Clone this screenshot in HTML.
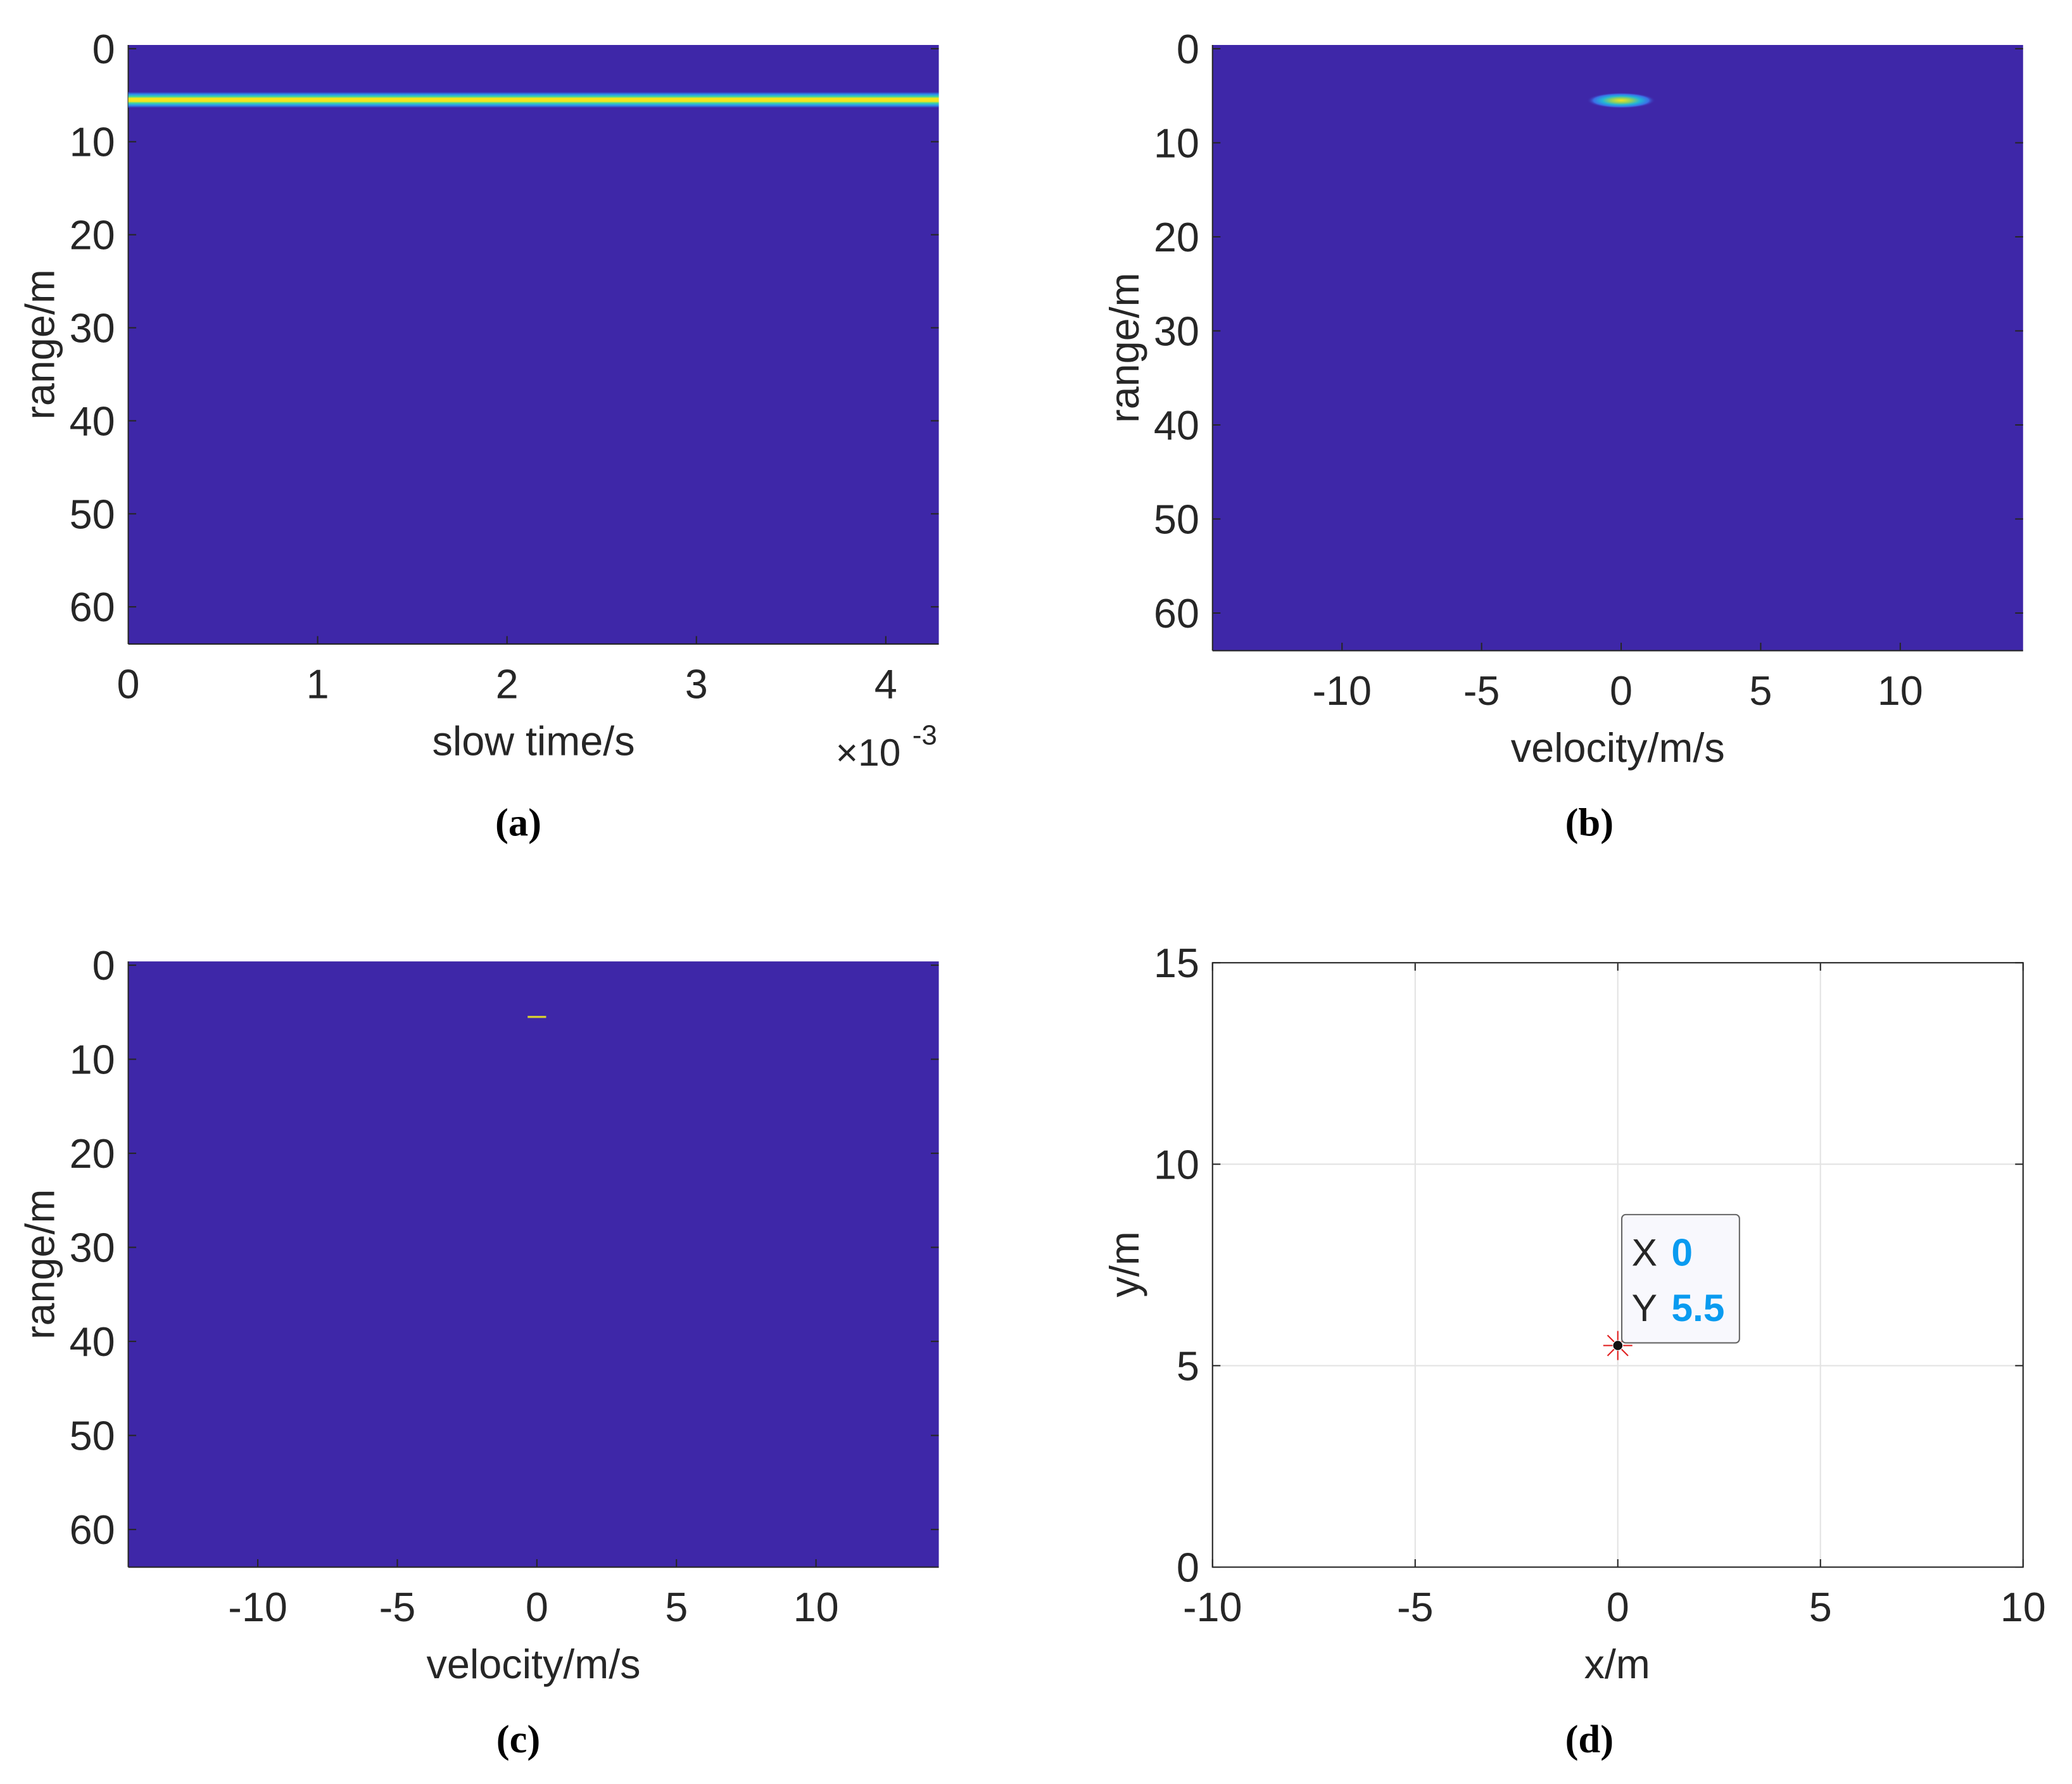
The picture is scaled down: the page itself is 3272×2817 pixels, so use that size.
<!DOCTYPE html>
<html><head><meta charset="utf-8"><style>
html,body{margin:0;padding:0;background:#fff;}
svg{display:block;}
text{font-family:"Liberation Sans",Arial,sans-serif;fill:#262626;}
.cap{font-family:"Liberation Serif",serif;font-weight:bold;fill:#000;}
</style></head><body>
<svg id="fig" xmlns="http://www.w3.org/2000/svg" width="3272" height="2817" viewBox="0 0 1567 1349" preserveAspectRatio="none">
<defs>
<linearGradient id="lineGrad" x1="0" y1="0" x2="0" y2="1">
<stop offset="0" stop-color="#3e27a8"/><stop offset="0.15" stop-color="#2c8ff0"/><stop offset="0.3" stop-color="#3ed8a0"/><stop offset="0.4" stop-color="#f5e51c"/><stop offset="0.6" stop-color="#f5e51c"/><stop offset="0.7" stop-color="#3ed8a0"/><stop offset="0.85" stop-color="#2c8ff0"/><stop offset="1" stop-color="#3e27a8"/>
</linearGradient>
<radialGradient id="blobGrad" cx="0.5" cy="0.5" r="0.5">
<stop offset="0" stop-color="#f5e51c"/><stop offset="0.3" stop-color="#8fd060"/><stop offset="0.55" stop-color="#22b5d8"/><stop offset="0.8" stop-color="#3a6fe8"/><stop offset="1" stop-color="#3e27a8" stop-opacity="0"/>
</radialGradient>
</defs>
</svg>
<script>
// Data arrays
const rangeTicks = [0,10,20,30,40,50,60];
const slowTimeTicks = [0,1,2,3,4];
const velocityTicks = [-10,-5,0,5,10];
const xyXTicks = [-10,-5,0,5,10];
const xyYTicks = [0,5,10,15];
const targetRange = [5.5];
const targetVelocity = [0];
const targetX = [0];
const targetY = [5.5];

const NS='http://www.w3.org/2000/svg';
const svg=document.getElementById('fig');
function mk(tag,attrs,parent){const e=document.createElementNS(NS,tag);for(const k in attrs)e.setAttribute(k,attrs[k]);(parent||svg).appendChild(e);return e;}
function txt(s,x,y,size,anchor,parent,cls){const t=mk('text',{x:x,y:y,'font-size':size,'text-anchor':anchor||'middle'},parent);if(cls)t.setAttribute('class',cls);t.textContent=s;return t;}
function lin(d0,d1,p0,p1){return v=>p0+(v-d0)/(d1-d0)*(p1-p0);}

function heatPanel(name,box,xdom,ydom,xticks,xlabel,xlabelY,caption){
  const g=mk('g',{});
  
  
  const sx=lin(xdom[0],xdom[1],box.l,box.r), sy=lin(ydom[0],ydom[1],box.t,box.b);
  const bg=mk('rect',{x:box.l,y:box.t,width:box.r-box.l,height:box.b-box.t,fill:'#3e27a8'},g);
  
  
  const gl=mk('g',{},g);
  
  
  mk('line',{x1:box.l,y1:box.b,x2:box.r,y2:box.b,stroke:'#262626','stroke-width':1},gl);
  mk('line',{x1:box.l,y1:box.t,x2:box.l,y2:box.b,stroke:'#262626','stroke-width':1},gl);
  rangeTicks.forEach(v=>{const y=sy(v);
    mk('line',{x1:box.l,y1:y,x2:box.l+6,y2:y,stroke:'#262626'},gl);
    mk('line',{x1:box.r,y1:y,x2:box.r-6,y2:y,stroke:'#262626'},gl);
    const t=txt(String(v),box.l-10,y+11,31,'end',gl);
    
    
  });
  xticks.forEach(v=>{const x=sx(v);
    mk('line',{x1:x,y1:box.b,x2:x,y2:box.b-6,stroke:'#262626'},gl);
    const t=txt(String(v),x,box.b+41,31,'middle',gl);
    
    
  });
  const yl=txt('range/m',0,0,31,'middle',g);
  yl.setAttribute('transform','translate('+(box.l-56)+','+((box.t+box.b)/2)+') rotate(-90)');
  
  
  const xl=txt(xlabel,(box.l+box.r)/2,xlabelY,31,'middle',g);
  
  
  const c=txt(caption,box.capX,box.capY,30,'middle',g,'cap');
  
  
  return {g,sx,sy};
}

// Panel (a)
const A=heatPanel('panel-a-range-slowtime',{l:97,r:710,t:34,b:487,capX:392,capY:632},[0,4.28],[-0.4,64],slowTimeTicks,'slow time/s',571,'(a)');
targetRange.forEach(r=>{
  const y=A.sy(r);
  const band=mk('rect',{x:97,y:y-6,width:613,height:12,fill:'url(#lineGrad)'},A.g);
  
  
});
const ex=txt('\u00d710',632,579,29,'start',A.g);


const ex2=txt('-3',690,563,21,'start',A.g);



// Panel (b)
const B=heatPanel('panel-b-range-doppler',{l:917,r:1530,t:34,b:492,capX:1202,capY:632},[-14.64,14.4],[-0.4,64],velocityTicks,'velocity/m/s',576,'(b)');
targetRange.forEach((r,i)=>{
  const e=mk('ellipse',{cx:B.sx(targetVelocity[i]),cy:B.sy(r),rx:26,ry:6,fill:'url(#blobGrad)'},B.g);
  
  
});

// Panel (c)
const C=heatPanel('panel-c-cfar-detection',{l:97,r:710,t:727,b:1185,capX:392,capY:1325},[-14.64,14.4],[-0.4,64],velocityTicks,'velocity/m/s',1269,'(c)');
targetRange.forEach((r,i)=>{
  const x=C.sx(targetVelocity[i]);
  const l=mk('line',{x1:x-7,x2:x+7,y1:C.sy(r),y2:C.sy(r),stroke:'#d8d030','stroke-width':1.5},C.g);
  
  
});

// Panel (d)
(function(){
  const g=mk('g',{});
  
  
  const box={l:917,r:1530,t:728,b:1185};
  const sx=lin(-10,10,box.l,box.r), sy=lin(0,15,box.b,box.t);
  xyXTicks.forEach(v=>{const x=sx(v);
    mk('line',{x1:x,y1:box.t,x2:x,y2:box.b,stroke:'#e3e3e3'},g);
    mk('line',{x1:x,y1:box.b,x2:x,y2:box.b-6,stroke:'#262626'},g);
    mk('line',{x1:x,y1:box.t,x2:x,y2:box.t+6,stroke:'#262626'},g);
    const t=txt(String(v),x,box.b+41,31,'middle',g);
    
    
  });
  xyYTicks.forEach(v=>{const y=sy(v);
    mk('line',{x1:box.l,y1:y,x2:box.r,y2:y,stroke:'#e3e3e3'},g);
    mk('line',{x1:box.l,y1:y,x2:box.l+6,y2:y,stroke:'#262626'},g);
    mk('line',{x1:box.r,y1:y,x2:box.r-6,y2:y,stroke:'#262626'},g);
    const t=txt(String(v),box.l-10,y+11,31,'end',g);
    
    
  });
  mk('rect',{x:box.l,y:box.t,width:box.r-box.l,height:box.b-box.t,fill:'none',stroke:'#262626'},g);
  const yl=txt('y/m',0,0,31,'middle',g);
  yl.setAttribute('transform','translate(861,956) rotate(-90)');
  
  
  const xl=txt('x/m',1223,1269,31,'middle',g);
  
  
  const c=txt('(d)',1202,1325,30,'middle',g,'cap');
  
  
  targetX.forEach((xv,i)=>{
    const px=sx(xv), py=sy(targetY[i]);
    const m=mk('g',{},g);
    
    
    for(let k=0;k<8;k++){const a=k*Math.PI/4;
      mk('line',{x1:px+4*Math.cos(a),y1:py+4*Math.sin(a),x2:px+11*Math.cos(a),y2:py+11*Math.sin(a),stroke:'#e02020','stroke-width':1},m);}
    mk('circle',{cx:px,cy:py,r:3.5,fill:'#111'},m);
    const tip=mk('g',{},g);
    
    
    mk('rect',{x:px+3,y:py-99,width:89,height:97,rx:3,fill:'#f8f8fd',stroke:'#666','stroke-width':1},tip);
    txt('X',1234,957,29,'start',tip);
    const xv2=txt(String(xv),1264,957,29,'start',tip); xv2.setAttribute('style','fill:#0a9bf0;font-weight:bold');
    txt('Y',1234,999,29,'start',tip);
    const yv2=txt(String(targetY[i]),1264,999,29,'start',tip); yv2.setAttribute('style','fill:#0a9bf0;font-weight:bold');
  });
})();
</script>
</body></html>
